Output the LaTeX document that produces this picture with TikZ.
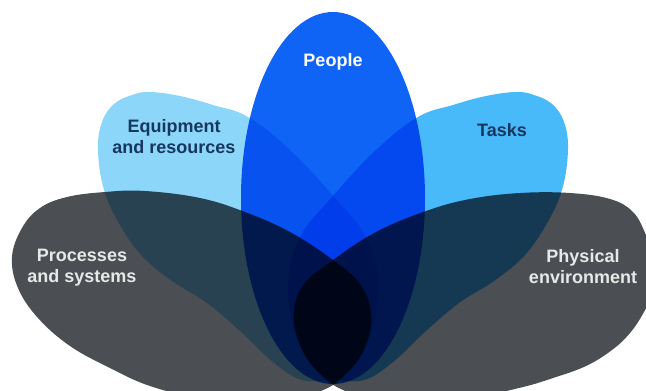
\documentclass[tikz,border=0pt]{standalone}
\usepackage{fontspec}
\setmainfont{Liberation Sans}

\definecolor{peopleblue}{RGB}{15,100,245}
\definecolor{equiplight}{RGB}{140,214,250}
\definecolor{taskblue}{RGB}{72,186,250}
\definecolor{slategray}{RGB}{75,79,84}
\definecolor{darknavy}{RGB}{23,55,94}
\definecolor{palegray}{RGB}{232,232,232}

\begin{document}
\begin{tikzpicture}[
  x=0.025cm, y=-0.025cm,
  petal/.style={smooth cycle, tension=0.65},
  petaltext/.style={align=center, font=\bfseries\fontsize{12.8}{15}\selectfont}
]
\useasboundingbox (0,0) rectangle (646,390);
\clip (0,0) rectangle (646,390);

% petals, multiplied where they overlap
\begin{scope}[blend mode=multiply]
\fill[slategray] plot[petal] coordinates {
  (12,257) (22,228) (40,208) (67,197) (105,192) (145,191) (200,198)
  (245,212) (290,232) (333,260) (360,284) (371,313) (366,345) (348,372)
  (318,392) (260,402) (200,398) (150,386) (110,368) (70,346) (38,318) (18,288)};
\fill[slategray] plot[petal] coordinates {
  (294,313) (304,284) (333,260) (376,232) (426,211) (470,199) (520,193)
  (570,193) (610,199) (633,212) (646,235) (656,262) (654,290) (644,312)
  (630,333) (612,350) (586,366) (553,378) (519,388) (460,400) (400,402)
  (348,392) (318,372) (300,345)};
\fill[equiplight] plot[petal] coordinates {
  (98,150) (102,122) (114,104) (132,95) (150,92) (180,96) (213,105)
  (248,117) (290,150) (334,197) (366,237) (378,282) (372,330) (355,364)
  (333,378) (302,380) (273,362) (240,331) (207,303) (172,281) (142,256)
  (120,225) (104,190)};
\fill[taskblue] plot[petal] coordinates {
  (568,150) (564,122) (552,104) (534,95) (516,92) (486,96) (453,105)
  (418,117) (376,150) (332,197) (300,237) (288,282) (294,330) (311,364)
  (333,378) (364,380) (393,362) (426,331) (459,303) (494,281) (524,256)
  (546,225) (562,190)};
\fill[peopleblue] (333,198) ellipse [x radius=92, y radius=186];
\end{scope}

% labels
\node[petaltext, text=white] (people) at (333,62) {People};
\node[petaltext, text=darknavy] (equipment) at (174,137) {Equipment\\and resources};
\node[petaltext, text=darknavy] (tasks) at (502,130) {Tasks};
\node[petaltext, text=palegray] (processes) at (82,268) {Processes\\and systems};
\node[petaltext, text=palegray] (physical) at (583,267) {Physical\\environment};
\end{tikzpicture}
\end{document}
